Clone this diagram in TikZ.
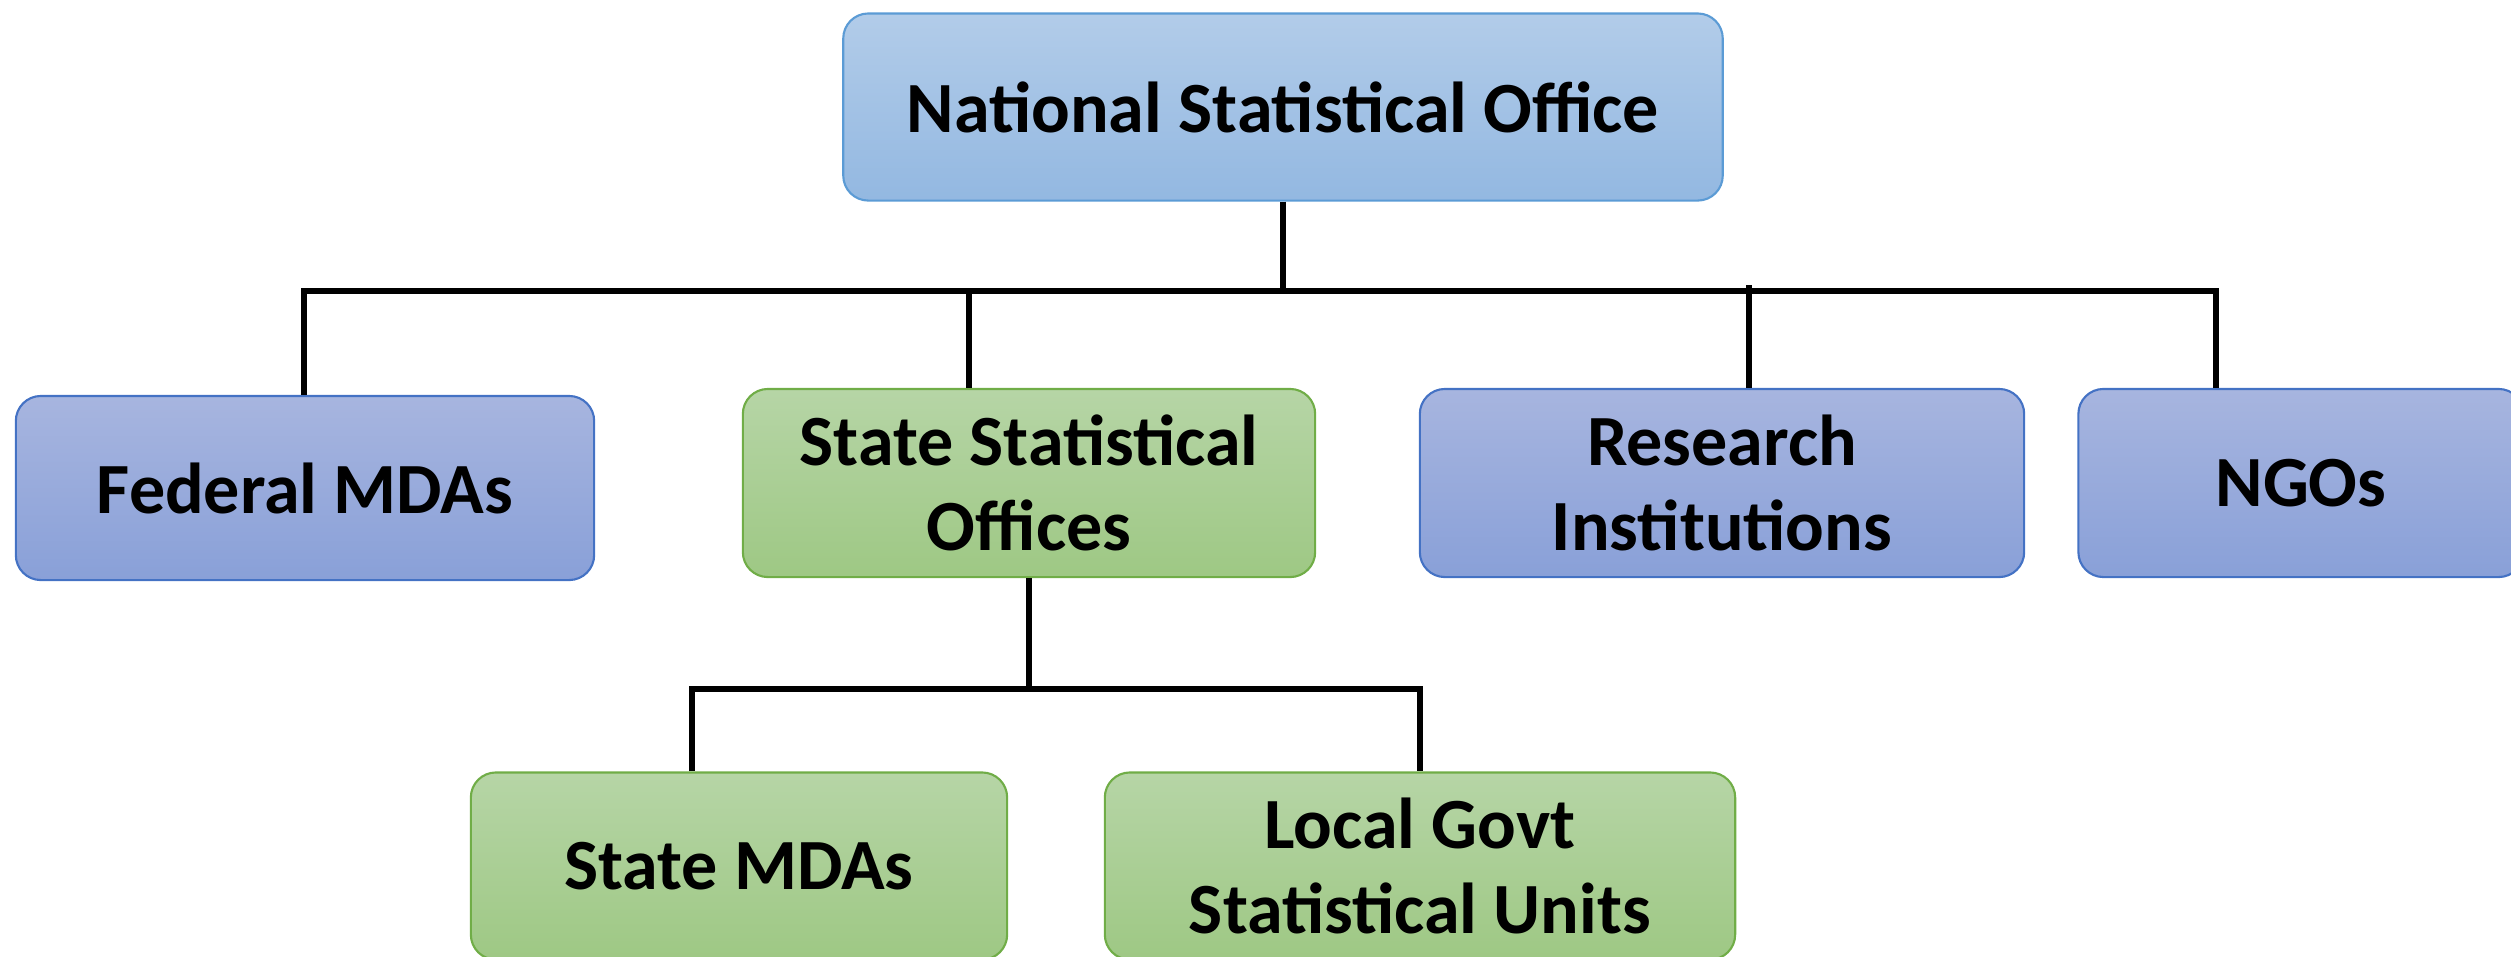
\documentclass[tikz,border=0pt]{standalone}
\usepackage{fontspec}
\setmainfont{Carlito}
\usetikzlibrary{ calc, positioning }
\definecolor{nsoTop}{RGB}{178,204,233}
\definecolor{nsoBot}{RGB}{147,184,225}
\definecolor{nsoLine}{RGB}{91,155,213}
\definecolor{bluTop}{RGB}{167,181,223}
\definecolor{bluBot}{RGB}{137,160,216}
\definecolor{bluLine}{RGB}{68,114,196}
\definecolor{grnTop}{RGB}{182,213,166}
\definecolor{grnBot}{RGB}{158,200,132}
\definecolor{grnLine}{RGB}{112,173,71}
\tikzset{
x=0.01cm, y=-0.01cm, % one unit is one pixel of the reference
every node/.style={inner sep=1pt},
unit/.style={rounded corners=0.25cm, line width=0.6pt, align=center,
  font=\bfseries\fontsize{20.5}{24}\selectfont}, % shared look of all boxes
nsobox/.style={unit, draw=nsoLine, top color=nsoTop, bottom color=nsoBot},
blubox/.style={unit, draw=bluLine, top color=bluTop, bottom color=bluBot},
grnbox/.style={unit, draw=grnLine, top color=grnTop, bottom color=grnBot},
link/.style={line width=1.8pt}, % the tree lines
}
\begin{document}
\begin{tikzpicture}
  \useasboundingbox (0,0) rectangle (2511,956);

  \node[nsobox, minimum width=8.79cm, minimum height=1.87cm] (nso) at (1283,107) {National Statistical Office};

  \node[blubox, minimum width=5.78cm, minimum height=1.84cm] (fed) at (305,488) {Federal MDAs};
  \node[grnbox, minimum width=5.72cm, minimum height=1.88cm] (sso) at (1029,483) {State Statistical\\Offices};
  \node[blubox, minimum width=6.04cm, minimum height=1.88cm] (res) at (1722,483) {Research\\Institutions};
  \node[blubox, minimum width=4.45cm, minimum height=1.88cm] (ngo) at (2301,483) {NGOs};

  \node[grnbox, minimum width=5.36cm, minimum height=1.87cm] (smda) at (739,866) {State MDAs};
  \node[grnbox, minimum width=6.30cm, minimum height=1.87cm] (lgov) at (1420,866) {Local Govt\\Statistical Units};

  % upper level
  \coordinate (hub) at (1283,291);
  \coordinate (busL) at (304,291);
  \coordinate (busR) at (2216,291);
  \coordinate (busS) at (969,291);
  \coordinate (busT) at (1749,291);
  \draw[link] (nso.south) -- (hub);
  \draw[link] (busL |- fed.north) -- (busL) -- (busR) -- (busR |- ngo.north);
  \draw[link] (busS) -- (busS |- sso.north);
  \draw[link] ($(busT)+(0,-6)$) -- (busT |- res.north);

  % lower level
  \coordinate (subL) at (692,689);
  \coordinate (subR) at (1420,689);
  \draw[link] (sso.south) -- (sso.south |- subL);
  \draw[link] (subL |- smda.north) -- (subL) -- (subR) -- (subR |- lgov.north);
\end{tikzpicture}
\end{document}
